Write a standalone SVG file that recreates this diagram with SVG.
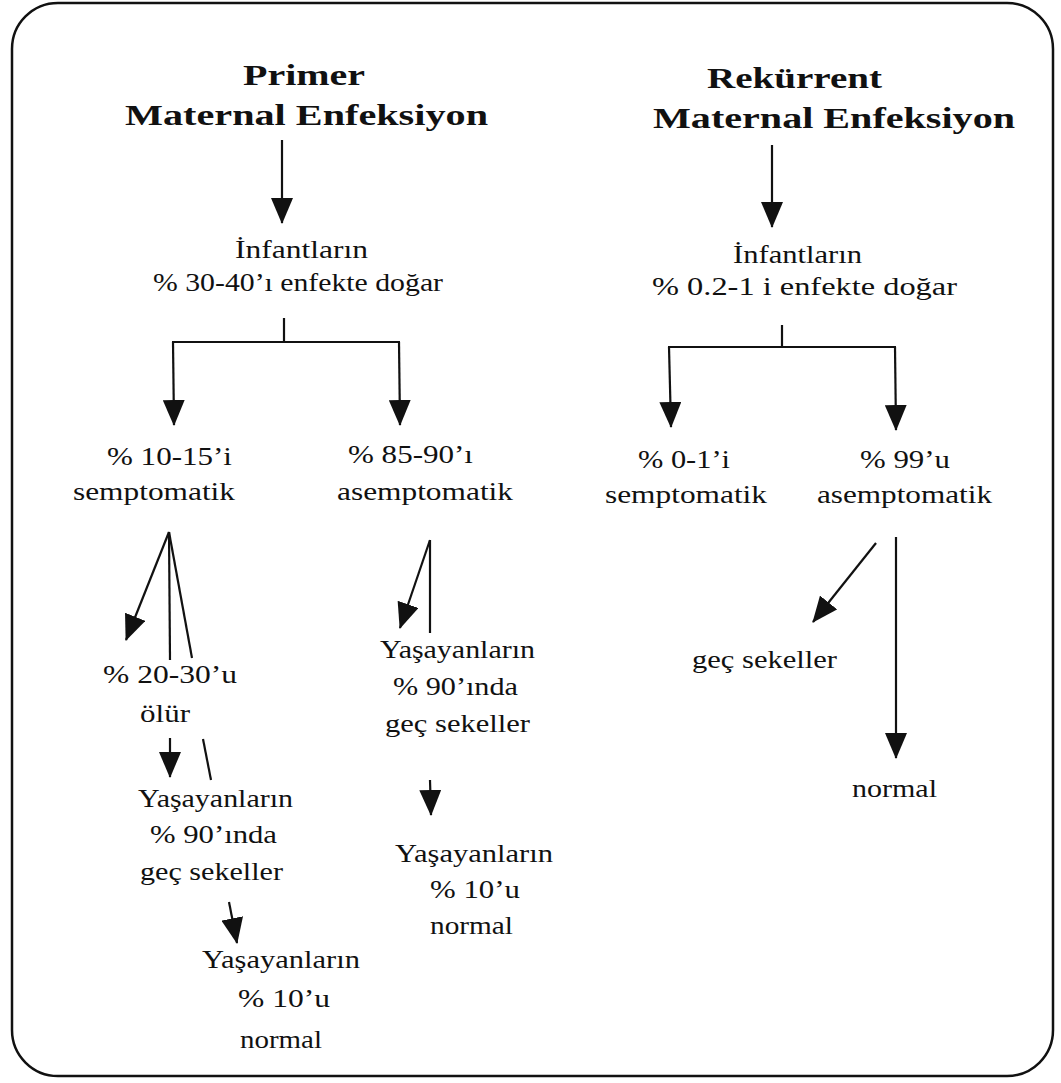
<svg xmlns="http://www.w3.org/2000/svg" width="1061" height="1083" viewBox="0 0 1061 1083">
<style>
.t{font-family:"Liberation Serif","Times New Roman",serif;font-size:26px;fill:#111}
.h{font-family:"Liberation Serif","Times New Roman",serif;font-size:30px;font-weight:bold;fill:#111}
.c line{stroke:#111;stroke-width:2.2;fill:none}
.a{marker-end:url(#ah)}
</style>
<defs>
<marker id="ah" markerUnits="userSpaceOnUse" markerWidth="26" markerHeight="22" refX="25" refY="11" orient="auto">
<path d="M0,0 L26,11 L0,22 z" fill="#111"/>
</marker>
</defs>
<rect x="12" y="3" width="1041" height="1073" rx="46" ry="46" fill="#fff" stroke="#111" stroke-width="2.5"/>

<g id="n-primer"><text class="h" x="243" y="85" textLength="122" lengthAdjust="spacingAndGlyphs">Primer</text><text class="h" x="125" y="125" textLength="363" lengthAdjust="spacingAndGlyphs">Maternal Enfeksiyon</text></g>
<g id="n-inf1"><text class="t" x="235" y="258" textLength="133" lengthAdjust="spacingAndGlyphs">İnfantların</text><text class="t" x="153" y="291" textLength="290" lengthAdjust="spacingAndGlyphs">% 30-40’ı enfekte doğar</text></g>
<g id="n-semp1"><text class="t" x="107" y="465" textLength="125" lengthAdjust="spacingAndGlyphs">% 10-15’i</text><text class="t" x="73" y="500" textLength="162" lengthAdjust="spacingAndGlyphs">semptomatik</text></g>
<g id="n-asemp1"><text class="t" x="348" y="463" textLength="125" lengthAdjust="spacingAndGlyphs">% 85-90’ı</text><text class="t" x="337" y="500" textLength="176" lengthAdjust="spacingAndGlyphs">asemptomatik</text></g>
<g id="n-olur"><text class="t" x="103" y="683" textLength="134" lengthAdjust="spacingAndGlyphs">% 20-30’u</text><text class="t" x="140" y="722" textLength="50" lengthAdjust="spacingAndGlyphs">ölür</text></g>
<g id="n-sek1"><text class="t" x="138" y="807" textLength="155" lengthAdjust="spacingAndGlyphs">Yaşayanların</text><text class="t" x="150" y="843" textLength="127" lengthAdjust="spacingAndGlyphs">% 90’ında</text><text class="t" x="140" y="880" textLength="143" lengthAdjust="spacingAndGlyphs">geç sekeller</text></g>
<g id="n-norm1"><text class="t" x="202" y="968" textLength="158" lengthAdjust="spacingAndGlyphs">Yaşayanların</text><text class="t" x="238" y="1007" textLength="92" lengthAdjust="spacingAndGlyphs">% 10’u</text><text class="t" x="240" y="1048" textLength="82" lengthAdjust="spacingAndGlyphs">normal</text></g>
<g id="n-sek2"><text class="t" x="380" y="658" textLength="155" lengthAdjust="spacingAndGlyphs">Yaşayanların</text><text class="t" x="393" y="695" textLength="125" lengthAdjust="spacingAndGlyphs">% 90’ında</text><text class="t" x="385" y="732" textLength="145" lengthAdjust="spacingAndGlyphs">geç sekeller</text></g>
<g id="n-norm2"><text class="t" x="395" y="862" textLength="158" lengthAdjust="spacingAndGlyphs">Yaşayanların</text><text class="t" x="430" y="898" textLength="90" lengthAdjust="spacingAndGlyphs">% 10’u</text><text class="t" x="430" y="934" textLength="83" lengthAdjust="spacingAndGlyphs">normal</text></g>

<g id="n-rek"><text class="h" x="707" y="88" textLength="175" lengthAdjust="spacingAndGlyphs">Rekürrent</text><text class="h" x="653" y="128" textLength="362" lengthAdjust="spacingAndGlyphs">Maternal Enfeksiyon</text></g>
<g id="n-inf2"><text class="t" x="733" y="263" textLength="129" lengthAdjust="spacingAndGlyphs">İnfantların</text><text class="t" x="652" y="295" textLength="305" lengthAdjust="spacingAndGlyphs">% 0.2-1 i enfekte doğar</text></g>
<g id="n-semp2"><text class="t" x="638" y="468" textLength="92" lengthAdjust="spacingAndGlyphs">% 0-1’i</text><text class="t" x="605" y="503" textLength="162" lengthAdjust="spacingAndGlyphs">semptomatik</text></g>
<g id="n-asemp2"><text class="t" x="860" y="468" textLength="90" lengthAdjust="spacingAndGlyphs">% 99’u</text><text class="t" x="817" y="503" textLength="175" lengthAdjust="spacingAndGlyphs">asemptomatik</text></g>
<g id="n-sek3"><text class="t" x="692" y="668" textLength="145" lengthAdjust="spacingAndGlyphs">geç sekeller</text></g>
<g id="n-norm3"><text class="t" x="852" y="797" textLength="85" lengthAdjust="spacingAndGlyphs">normal</text></g>

<g id="connectors" class="c">
<line class="a" x1="282" y1="140" x2="282" y2="223"/>
<line x1="284" y1="318" x2="284" y2="342"/>
<line x1="172" y1="342" x2="400" y2="342"/>
<line class="a" x1="173" y1="342" x2="174" y2="425"/>
<line class="a" x1="399" y1="342" x2="400" y2="425"/>
<line class="a" x1="169" y1="532" x2="126" y2="640"/>
<line x1="169" y1="532" x2="170" y2="660"/>
<line x1="169" y1="532" x2="192" y2="658"/>
<line class="a" x1="170" y1="738" x2="170" y2="777"/>
<line x1="203" y1="739" x2="211" y2="780"/>
<line class="a" x1="229" y1="902" x2="237" y2="943"/>
<line class="a" x1="430" y1="540" x2="400" y2="628"/>
<line x1="430" y1="540" x2="430" y2="633"/>
<line class="a" x1="430" y1="780" x2="431" y2="815"/>
<line class="a" x1="772" y1="145" x2="772" y2="227"/>
<line x1="782" y1="325" x2="782" y2="347"/>
<line x1="668" y1="347" x2="896" y2="347"/>
<line class="a" x1="669" y1="347" x2="671" y2="427"/>
<line class="a" x1="895" y1="347" x2="896" y2="430"/>
<line class="a" x1="876" y1="543" x2="813" y2="622"/>
<line class="a" x1="896" y1="537" x2="896" y2="758"/>
</g>
</svg>
